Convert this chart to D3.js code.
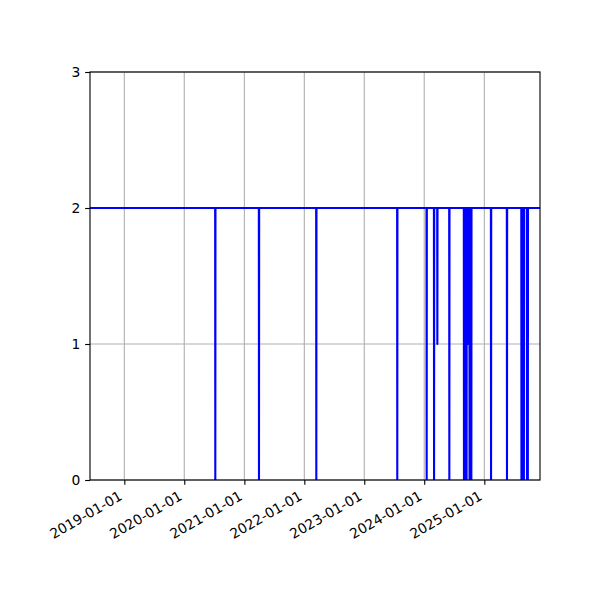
<!DOCTYPE html>
<html>
<head>
<meta charset="utf-8">
<script src="https://cdn.jsdelivr.net/npm/d3@7"></script>
<style>
  body { margin: 0; background: #fff; }
  svg text { font-family: "DejaVu Sans", sans-serif; font-size: 13.89px; fill: #000; }
</style>
</head>
<body>
<svg id="chart" width="600" height="600"></svg>
<script>
// series runs at a base level, with short dips
const start_date = '2018-06-06';
const end_date = '2025-12-06';
const base_level = 2;

const dip_dates = [
  '2020-07-08', '2021-03-31', '2022-03-15', '2023-07-21',
  '2024-01-16', '2024-03-01', '2024-03-21', '2024-06-02',
  '2024-08-30', '2024-09-03', '2024-09-07', '2024-09-11', '2024-09-15',
  '2024-09-20', '2024-09-25', '2024-09-30',
  '2024-10-03', '2024-10-07', '2024-10-11', '2024-10-14',
  '2025-02-11', '2025-05-19',
  '2025-08-15', '2025-08-19', '2025-08-23', '2025-08-27', '2025-08-30',
  '2025-09-18', '2025-09-23',
];
const dip_levels = [
  0, 0, 0, 0,
  0, 0, 1, 0,
  0, 0, 0, 0, 0,
  1, 1, 1,
  0, 0, 0, 0,
  0, 0,
  0, 0, 0, 0, 0,
  0, 0,
];

const y_ticks = [0, 1, 2, 3];
const x_tick_labels = [
  '2019-01-01', '2020-01-01', '2021-01-01', '2022-01-01',
  '2023-01-01', '2024-01-01', '2025-01-01',
];

const parse = d3.utcParse('%Y-%m-%d');
const fmt = d3.utcFormat('%Y-%m-%d');
const day = 24 * 3600 * 1000;

const build_series = function () {
  let pts = [{ date: parse(start_date), value: base_level }];
  dip_dates.forEach((d, i) => {
    const t = parse(d);
    pts.push({ date: new Date(+t - day), value: base_level });
    pts.push({ date: t, value: dip_levels[i] });
    pts.push({ date: new Date(+t + day), value: base_level });
  });
  pts.push({ date: parse(end_date), value: base_level });
  return pts;
};

const margin = { left: 90, right: 60, top: 72, bottom: 120 };
const W = 600, H = 600;
const pw = W - margin.left - margin.right;
const ph = H - margin.top - margin.bottom;
const lw = 0.8 * 100 / 72;
const tick_len = 3.5 * 100 / 72;
const pad = 3.5 * 100 / 72;

const svg = d3.select('#chart');

const x = d3.scaleUtc()
  .domain([parse(start_date), parse(end_date)])
  .range([0, pw]);
const y = d3.scaleLinear()
  .domain([0, 3])
  .range([ph, 0]);

const g = svg.append('g')
  .attr('transform', `translate(${margin.left},${margin.top})`);

g.append('clipPath')
  .attr('id', 'clip')
  .append('rect')
  .attr('width', pw)
  .attr('height', ph);

const x_ticks = x_tick_labels.map(parse);

// grid
g.append('g')
  .selectAll('line')
  .data(x_ticks)
  .join('line')
  .attr('x1', d => x(d)).attr('x2', d => x(d))
  .attr('y1', 0).attr('y2', ph)
  .attr('stroke', '#b0b0b0')
  .attr('stroke-width', lw);

g.append('g')
  .selectAll('line')
  .data(y_ticks)
  .join('line')
  .attr('x1', 0).attr('x2', pw)
  .attr('y1', d => y(d)).attr('y2', d => y(d))
  .attr('stroke', '#b0b0b0')
  .attr('stroke-width', lw);

const line = d3.line()
  .x(d => x(d.date))
  .y(d => y(d.value));

g.append('path')
  .datum(build_series())
  .attr('clip-path', 'url(#clip)')
  .attr('d', line)
  .attr('fill', 'none')
  .attr('stroke', '#0000ff')
  .attr('stroke-width', 1.5 * 100 / 72)
  .attr('stroke-linejoin', 'round');

// axes
const x_axis = d3.axisBottom(x)
  .tickValues(x_ticks)
  .tickFormat(fmt)
  .tickSize(tick_len)
  .tickPadding(pad);

const xg = g.append('g')
  .attr('transform', `translate(0,${ph})`)
  .call(x_axis);

xg.selectAll('text')
  .attr('text-anchor', 'end')
  .attr('dy', null)
  .attr('y', null)
  .attr('transform', function () {
    return `translate(-1.6, ${tick_len + pad + 9.2}) rotate(-30)`;
  });

const y_axis = d3.axisLeft(y)
  .tickValues(y_ticks)
  .tickFormat(d3.format('d'))
  .tickSize(tick_len)
  .tickPadding(pad);

const yg = g.append('g').call(y_axis);

[xg, yg].forEach(ax => {
  ax.select('.domain').remove();
  ax.selectAll('line').attr('stroke', '#000').attr('stroke-width', lw);
  ax.selectAll('text').style('font-size', '13.89px');
});

g.append('rect')
  .attr('width', pw)
  .attr('height', ph)
  .attr('fill', 'none')
  .attr('stroke', '#000')
  .attr('stroke-width', lw);
</script>
</body>
</html>
